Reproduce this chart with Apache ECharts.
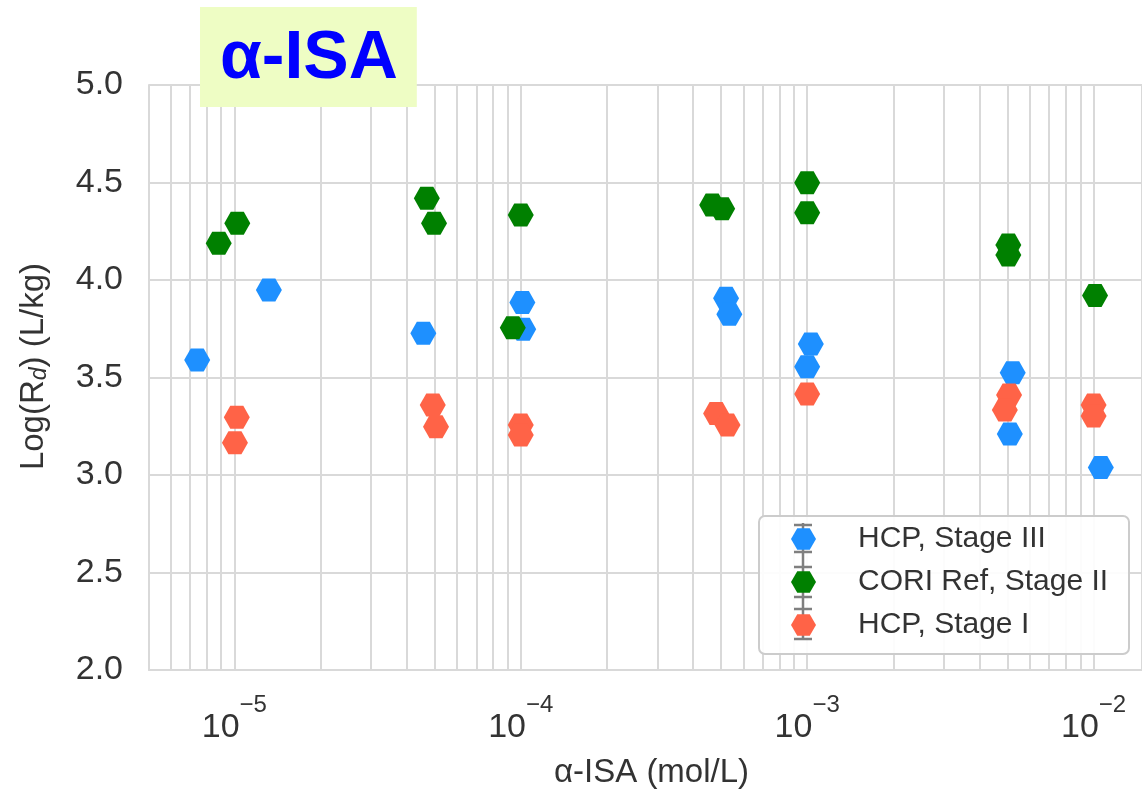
<!DOCTYPE html>
<html><head><meta charset="utf-8">
<script src="https://cdn.jsdelivr.net/npm/echarts@6/dist/echarts.min.js"></script>
<style>html,body{margin:0;padding:0;background:#fff}#c{width:1142px;height:797px}</style>
</head><body><div id="c"></div>
<script>
// ---- data ----
const seriesNames = ['HCP, Stage III', 'CORI Ref, Stage II', 'HCP, Stage I'];
const seriesColors = ['#1E90FF', '#008000', '#FF6347'];

const stage3X = [7.42e-6, 1.32e-5, 4.57e-5, 1.013e-4, 1.02e-4, 5.21e-4, 5.35e-4, 1.03e-3, 1.0e-3, 5.22e-3, 5.1e-3, 1.06e-2];
const stage3Y = [3.590, 3.949, 3.727, 3.884, 3.747, 3.906, 3.824, 3.672, 3.555, 3.525, 3.210, 3.039];

const coriX = [8.82e-6, 1.024e-5, 4.70e-5, 4.98e-5, 1.0e-4, 9.38e-5, 4.66e-4, 5.05e-4, 1.0e-3, 1.0e-3, 5.04e-3, 5.04e-3, 1.012e-2];
const coriY = [4.188, 4.291, 4.419, 4.291, 4.333, 3.755, 4.385, 4.365, 4.499, 4.345, 4.179, 4.128, 3.920];

const stage1X = [1.02e-5, 1.005e-5, 4.93e-5, 5.06e-5, 1.0e-4, 1.0e-4, 4.81e-4, 5.27e-4, 1.0e-3, 5.07e-3, 4.9e-3, 1.0e-2, 1.0e-2];
const stage1Y = [3.296, 3.166, 3.359, 3.248, 3.256, 3.205, 3.316, 3.256, 3.415, 3.410, 3.333, 3.359, 3.303];

const yTickLabels = ['2.0', '2.5', '3.0', '3.5', '4.0', '4.5', '5.0'];
const xMajorExponents = [-5, -4, -3, -2];
const xTickLabels = ['10{s|\u22125}', '10{s|\u22124}', '10{s|\u22123}', '10{s|\u22122}'];
const minorMultipliers = [2, 3, 4, 5, 6, 7, 8, 9];

const xMin = 5.036e-6, xMax = 0.01476;
const yMin = 2, yMax = 5;

// minor grid positions (decades x multipliers), inside the axis range
const minorGrid = [];
[-6, -5, -4, -3, -2].forEach(e => minorMultipliers.forEach(m => {
  const v = m * Math.pow(10, e);
  if (v > xMin && v < xMax) minorGrid.push(v);
}));

const zip = (xs, ys) => xs.map((x, i) => [x, ys[i]]);
const hex = 'path://M0,8.66 L5,0 L15,0 L20,8.66 L15,17.32 L5,17.32 Z';
const gridColor = '#d9d9d9';
const textColor = '#333333';
const FONT = '"Liberation Sans", Arial, sans-serif';

const chart = echarts.init(document.getElementById('c'), null, {renderer: 'canvas'});

const dataSeries = [[stage3X, stage3Y], [coriX, coriY], [stage1X, stage1Y]].map((d, i) => ({
  name: seriesNames[i],
  type: 'scatter',
  data: zip(d[0], d[1]),
  symbol: hex,
  symbolSize: [26, 23],
  itemStyle: {color: seriesColors[i], opacity: 1},
  z: 3,
  emphasis: {disabled: true}
}));

const option = {
  backgroundColor: '#ffffff',
  animation: false,
  textStyle: {fontFamily: FONT},
  title: {
    text: '\u03b1-ISA',
    left: 200, top: 7,
    padding: [18, 19, 13, 20],
    backgroundColor: '#EEFDC4',
    textStyle: {fontSize: 68, lineHeight: 69, fontWeight: 'bold', color: '#0000FF', fontFamily: FONT}
  },
  grid: {left: 149, right: 0, top: 85, bottom: 127, containLabel: false},
  xAxis: {
    type: 'log',
    min: xMin, max: xMax,
    logBase: 10,
    name: '\u03b1-ISA (mol/L)',
    nameLocation: 'middle',
    nameGap: 86,
    nameTextStyle: {fontSize: 33, color: textColor, fontFamily: FONT, padding: [0, 0, 0, 12]},
    axisLine: {show: true, lineStyle: {color: gridColor, width: 2}},
    axisTick: {show: false},
    splitLine: {show: true, lineStyle: {color: gridColor, width: 2}},
    axisLabel: {
      showMinLabel: false, showMaxLabel: false,
      margin: 23,
      formatter: function (v) {
        const e = Math.log10(v);
        const r = Math.round(e);
        if (Math.abs(e - r) > 1e-6) return '';
        const idx = xMajorExponents.indexOf(r);
        return idx >= 0 ? xTickLabels[idx] : '';
      },
      color: textColor,
      fontSize: 34,
      fontFamily: FONT,
      rich: {
        s: {fontSize: 24, color: textColor, fontFamily: FONT, padding: [0, 0, 45, 0]}
      }
    }
  },
  yAxis: {
    type: 'value',
    min: yMin, max: yMax, interval: 0.5,
    name: 'Log(R{sub|d}) (L/kg)',
    nameLocation: 'middle',
    nameRotate: 90,
    nameGap: 98,
    nameTextStyle: {
      fontSize: 33, color: textColor, fontFamily: FONT, padding: [0, 0, 0, 22],
      rich: {sub: {fontSize: 23, fontStyle: 'italic', color: textColor, fontFamily: FONT, padding: [12, 0, 0, 0]}}
    },
    axisLine: {show: true, lineStyle: {color: gridColor, width: 2}},
    axisTick: {show: false},
    splitLine: {show: true, lineStyle: {color: gridColor, width: 2}},
    axisLabel: {
      margin: 26,
      fontSize: 34, color: textColor, fontFamily: FONT,
      formatter: function (v) {
        const idx = Math.round((v - 2) / 0.5);
        return yTickLabels[idx] !== undefined ? yTickLabels[idx] : '';
      }
    }
  },
  legend: {
    orient: 'vertical',
    left: 758, top: 515,
    padding: [9, 20, 12, 33],
    itemWidth: 25, itemHeight: 23,
    itemGap: 13,
    icon: hex,
    data: seriesNames,
    backgroundColor: 'transparent',
    borderWidth: 0,
    z: 20,
    selectedMode: false,
    textStyle: {fontSize: 30, lineHeight: 30, color: textColor, fontFamily: FONT, padding: [0, 0, 0, 37]}
  },
  graphic: [
    {type: 'rect', left: 758, top: 515, z: 10, shape: {width: 370, height: 138, r: 6},
     style: {fill: 'rgba(255,255,255,0.9)', stroke: '#cccccc', lineWidth: 2}},
    {type: 'line', z: 11, shape: {x1: 803, y1: 523, x2: 803, y2: 640}, style: {stroke: '#7f7f7f', lineWidth: 2.5}},
    ...[525, 552, 567, 597, 609, 639].map(y => ({
      type: 'line', z: 11, shape: {x1: 794, y1: y, x2: 812, y2: y}, style: {stroke: '#7f7f7f', lineWidth: 2.5}
    }))
  ],
  series: [
    {
      type: 'lines', name: '_minor', coordinateSystem: 'cartesian2d', z: 1, silent: true,
      polyline: false,
      lineStyle: {color: gridColor, width: 2, opacity: 1, curveness: 0},
      emphasis: {disabled: true},
      data: minorGrid.map(v => ({coords: [[v, yMin], [v, yMax]]}))
    },
    ...dataSeries
  ]
};
chart.setOption(option);
</script>
</body></html>
